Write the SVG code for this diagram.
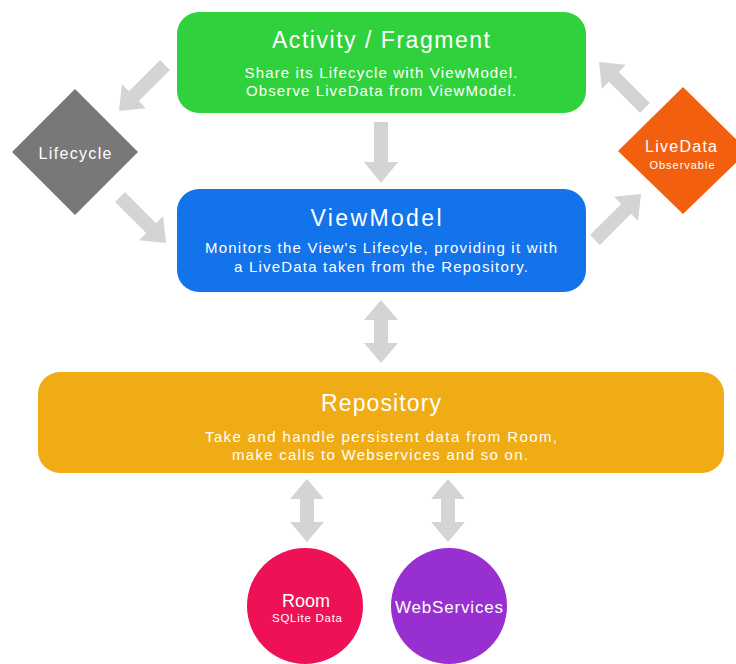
<svg xmlns="http://www.w3.org/2000/svg" xmlns:xlink="http://www.w3.org/1999/xlink" width="736" height="664" viewBox="0 0 736 664">
<style>
text{font-family:"Liberation Sans",Arial,sans-serif;fill:#ffffff;text-anchor:middle}
.t{font-size:23px}
.s{font-size:15px}
.arr{fill:#d4d4d4}
</style>
<defs>
<path id="a1" d="M0,-7 L44,-7 L44,-17 L65,0 L44,17 L44,7 L0,7 Z"/>
<path id="a2" d="M0,0 L17,20 L7,20 L7,43 L17,43 L0,63 L-17,43 L-7,43 L-7,20 L-17,20 Z"/>
</defs>
<rect width="736" height="664" fill="#ffffff"/>
<g id="connectors" class="arr">
<polygon points="374,122 388,122 388,162 398,162 381,183 364,162 374,162"/>
<use xlink:href="#a1" transform="translate(165,65) rotate(135)"/>
<use xlink:href="#a1" transform="translate(120,197) rotate(45)"/>
<use xlink:href="#a1" transform="translate(595,240) rotate(-45)"/>
<use xlink:href="#a1" transform="translate(645,108) rotate(-135)"/>
<use xlink:href="#a2" transform="translate(381,300)"/>
<use xlink:href="#a2" transform="translate(307,479)"/>
<use xlink:href="#a2" transform="translate(448,479)"/>
</g>
<g id="activity">
<rect x="177" y="12" width="409" height="101" rx="22" fill="#2fd23c"/>
<text class="t" x="381" y="48" textLength="218" lengthAdjust="spacing">Activity / Fragment</text>
<text class="s" x="381" y="78" textLength="273" lengthAdjust="spacing">Share its Lifecycle with ViewModel.</text>
<text class="s" x="381" y="96" textLength="270" lengthAdjust="spacing">Observe LiveData from ViewModel.</text>
</g>
<g id="viewmodel">
<rect x="177" y="189" width="409" height="103" rx="22" fill="#1273ea"/>
<text class="t" x="376" y="226" textLength="131" lengthAdjust="spacing">ViewModel</text>
<text class="s" x="381" y="253" textLength="352" lengthAdjust="spacing">Monitors the View's Lifecyle, providing it with</text>
<text class="s" x="381" y="272" textLength="294" lengthAdjust="spacing">a LiveData taken from the Repository.</text>
</g>
<g id="repository">
<rect x="38" y="372" width="686" height="101" rx="22" fill="#f0ac14"/>
<text class="t" x="381" y="411" textLength="120" lengthAdjust="spacing">Repository</text>
<text class="s" x="381" y="442" textLength="352" lengthAdjust="spacing">Take and handle persistent data from Room,</text>
<text class="s" x="380" y="460" textLength="296" lengthAdjust="spacing">make calls to Webservices and so on.</text>
</g>
<g id="lifecycle">
<polygon points="75,89 138,152 75,215 12,152" fill="#787878"/>
<text x="75" y="159" style="font-size:16px" textLength="73" lengthAdjust="spacing">Lifecycle</text>
</g>
<g id="livedata">
<polygon points="683,87 748,151 683,214 618,151" fill="#f2600f"/>
<text x="681" y="152" style="font-size:16px" textLength="72" lengthAdjust="spacing">LiveData</text>
<text x="682" y="169" style="font-size:11px" textLength="65" lengthAdjust="spacing">Observable</text>
</g>
<g id="room">
<circle cx="305" cy="606" r="58" fill="#ee1156"/>
<text x="306" y="607" style="font-size:18px" textLength="48" lengthAdjust="spacing">Room</text>
<text x="307" y="622" style="font-size:11.5px" textLength="70" lengthAdjust="spacing">SQLite Data</text>
</g>
<g id="webservices">
<circle cx="449" cy="606" r="58" fill="#982fd0"/>
<text x="449" y="613" style="font-size:17px" textLength="108" lengthAdjust="spacing">WebServices</text>
</g>
</svg>
